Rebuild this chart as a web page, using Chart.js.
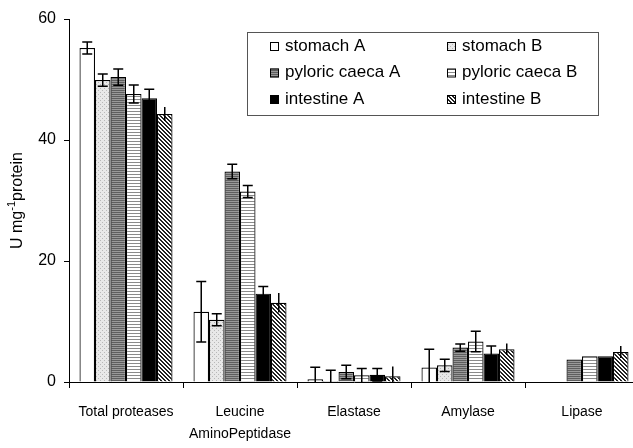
<!DOCTYPE html>
<html>
<head>
<meta charset="utf-8">
<script src="https://cdn.jsdelivr.net/npm/chart.js@4.4.1/dist/chart.umd.min.js"></script>
<style>
  html, body { margin: 0; padding: 0; background: #fff; overflow: hidden; }
  #wrap { width: 633px; height: 448px; overflow: hidden; }
</style>
</head>
<body>
<div id="wrap"><canvas id="chart" width="650" height="448"></canvas></div>
<script>
// categories and tick labels
const categories = ["Total proteases", ["Leucine", "AminoPeptidase"], "Elastase", "Amylase", "Lipase"];
const yTicks = [0, 20, 40, 60];

// series (U mg-1 protein)
const stomachA = [55.2, 11.6, 0.45, 2.4, null];
const stomachB = [49.9, 10.3, 0.15, 2.75, null];
const pyloricA = [50.4, 34.8, 1.65, 5.7, 3.7];
const pyloricB = [47.6, 31.5, 1.1, 6.7, 4.25];
const intestineA = [46.9, 14.6, 1.2, 4.7, 4.25];
const intestineB = [44.3, 13.1, 0.95, 5.4, 4.95];

// error bar half-lengths
const errStomachA = [1.0, 5.0, 2.0, 3.0, 0];
const errStomachB = [1.0, 1.0, 1.8, 1.0, 0];
const errPyloricA = [1.35, 1.2, 1.1, 0.6, 0];
const errPyloricB = [1.5, 1.0, 1.15, 1.7, 0];
const errIntestineA = [1.5, 1.2, 1.05, 1.25, 0];
const errIntestineB = [1.15, 1.6, 1.6, 0.95, 1.0];

const FONT = "'Liberation Sans', Arial, sans-serif";

// small pattern tiles for the bar fills
function makePattern(size, draw) {
  const c = document.createElement("canvas");
  c.width = size; c.height = size;
  const g = c.getContext("2d");
  draw(g, size);
  return g.createPattern(c, "repeat");
}

const dotted = makePattern(4, (g) => {
  g.fillStyle = "#e8e8e8"; g.fillRect(0, 0, 4, 4);
  g.fillStyle = "#b8b8b8"; g.fillRect(0, 0, 1, 1); g.fillRect(2, 2, 1, 1);
});
const darkStripes = makePattern(2, (g) => {
  g.fillStyle = "#999"; g.fillRect(0, 0, 2, 2);
  g.fillStyle = "#5e5e5e"; g.fillRect(0, 0, 2, 1);
});
const lightStripes = makePattern(3, (g) => {
  g.fillStyle = "#fff"; g.fillRect(0, 0, 3, 3);
  g.fillStyle = "#8a8a8a"; g.fillRect(0, 0, 3, 1);
});
const hatch = makePattern(4, (g) => {
  g.fillStyle = "#fff"; g.fillRect(0, 0, 4, 4);
  g.fillStyle = "#222";
  for (let i = 0; i < 4; i++) { g.fillRect(i, i, 1, 1); g.fillRect((i + 1) % 4, i, 1, 1); }
});

function series(label, data, fill, err, caps) {
  return {
    label: label,
    data: data,
    backgroundColor: fill,
    borderColor: "#000",
    borderWidth: 1.2,
    borderSkipped: "bottom",
    errors: err,
    caps: caps,
    barPercentage: 1.0,
    categoryPercentage: 0.816,
  };
}

// error bars drawn over the bars
const errorBars = {
  id: "errorBars",
  afterDatasetsDraw(chart) {
    const ctx = chart.ctx;
    const y = chart.scales.y;
    ctx.save();
    ctx.strokeStyle = "#000";
    ctx.lineWidth = 1.5;
    chart.data.datasets.forEach((ds, i) => {
      const meta = chart.getDatasetMeta(i);
      meta.data.forEach((bar, j) => {
        const v = ds.data[j];
        const e = ds.errors[j];
        if (v == null || !e) return;
        const top = y.getPixelForValue(v + e);
        const bot = Math.min(y.getPixelForValue(Math.max(v - e, 0)), y.bottom);
        ctx.beginPath();
        ctx.moveTo(bar.x, top); ctx.lineTo(bar.x, bot);
        if (ds.caps) {
          ctx.moveTo(bar.x - 5, top); ctx.lineTo(bar.x + 5, top);
          if (v - e > 0) { ctx.moveTo(bar.x - 5, bot); ctx.lineTo(bar.x + 5, bot); }
        }
        ctx.stroke();
      });
    });
    ctx.restore();
  }
};

// boxed two-column legend and the y title with superscript
const decorations = {
  id: "decorations",
  afterDraw(chart) {
    const ctx = chart.ctx;
    ctx.save();
    ctx.strokeStyle = "#555";
    ctx.lineWidth = 1;
    ctx.strokeRect(247.5, 32.5, 351, 83);
    ctx.font = "17px " + FONT;
    ctx.textBaseline = "middle";
    chart.data.datasets.forEach((ds, i) => {
      const col = i % 2, row = Math.floor(i / 2);
      const bx = col ? 447 : 270;
      const cy = 46 + row * 26.5;
      ctx.fillStyle = ds.backgroundColor;
      ctx.fillRect(bx, cy - 4, 9, 9);
      ctx.strokeStyle = "#000";
      ctx.strokeRect(bx + 0.5, cy - 3.5, 8, 8);
      ctx.fillStyle = "#000";
      ctx.fillText(ds.label, bx + 15, cy);
    });

    const area = chart.chartArea;
    ctx.translate(18, (area.top + area.bottom) / 2);
    ctx.rotate(-Math.PI / 2);
    const big = "16px " + FONT, small = "11px " + FONT;
    const parts = [["U mg", big, 0], ["-1", small, -6], ["protein", big, 0]];
    let w = 0;
    parts.forEach((p) => { ctx.font = p[1]; w += ctx.measureText(p[0]).width; });
    let x = -w / 2;
    ctx.fillStyle = "#000";
    ctx.textBaseline = "middle";
    parts.forEach((p) => {
      ctx.font = p[1];
      ctx.fillText(p[0], x, p[2]);
      x += ctx.measureText(p[0]).width;
    });
    ctx.restore();
  }
};

new Chart(document.getElementById("chart"), {
  type: "bar",
  data: {
    labels: categories,
    datasets: [
      series("stomach A", stomachA, "#fff", errStomachA, true),
      series("stomach B", stomachB, dotted, errStomachB, true),
      series("pyloric caeca A", pyloricA, darkStripes, errPyloricA, true),
      series("pyloric caeca B", pyloricB, lightStripes, errPyloricB, true),
      series("intestine A", intestineA, "#000", errIntestineA, true),
      series("intestine B", intestineB, hatch, errIntestineB, false),
    ],
  },
  options: {
    responsive: false,
    animation: false,
    layout: { padding: { top: 19, right: 11, left: 0, bottom: 0 } },
    plugins: { legend: { display: false }, tooltip: { enabled: false } },
    scales: {
      x: {
        grid: { display: true, drawOnChartArea: false, offset: true, tickLength: 6, color: "#000", lineWidth: 1 },
        border: { color: "#000", width: 1 },
        ticks: { color: "#000", font: { size: 14, family: FONT, lineHeight: 22 / 14 }, padding: 13, maxRotation: 0, autoSkip: false },
        afterFit: (s) => { s.height = 66; },
      },
      y: {
        min: 0,
        max: 60,
        afterBuildTicks: (s) => { s.ticks = yTicks.map((v) => ({ value: v })); },
        grid: { display: true, drawOnChartArea: false, tickLength: 5, color: "#000", lineWidth: 1 },
        border: { color: "#000", width: 1 },
        ticks: { color: "#000", font: { size: 16, family: FONT }, padding: 8 },
        afterFit: (s) => { s.width = 69; },
      },
    },
  },
  plugins: [errorBars, decorations],
});
</script>
</body>
</html>
